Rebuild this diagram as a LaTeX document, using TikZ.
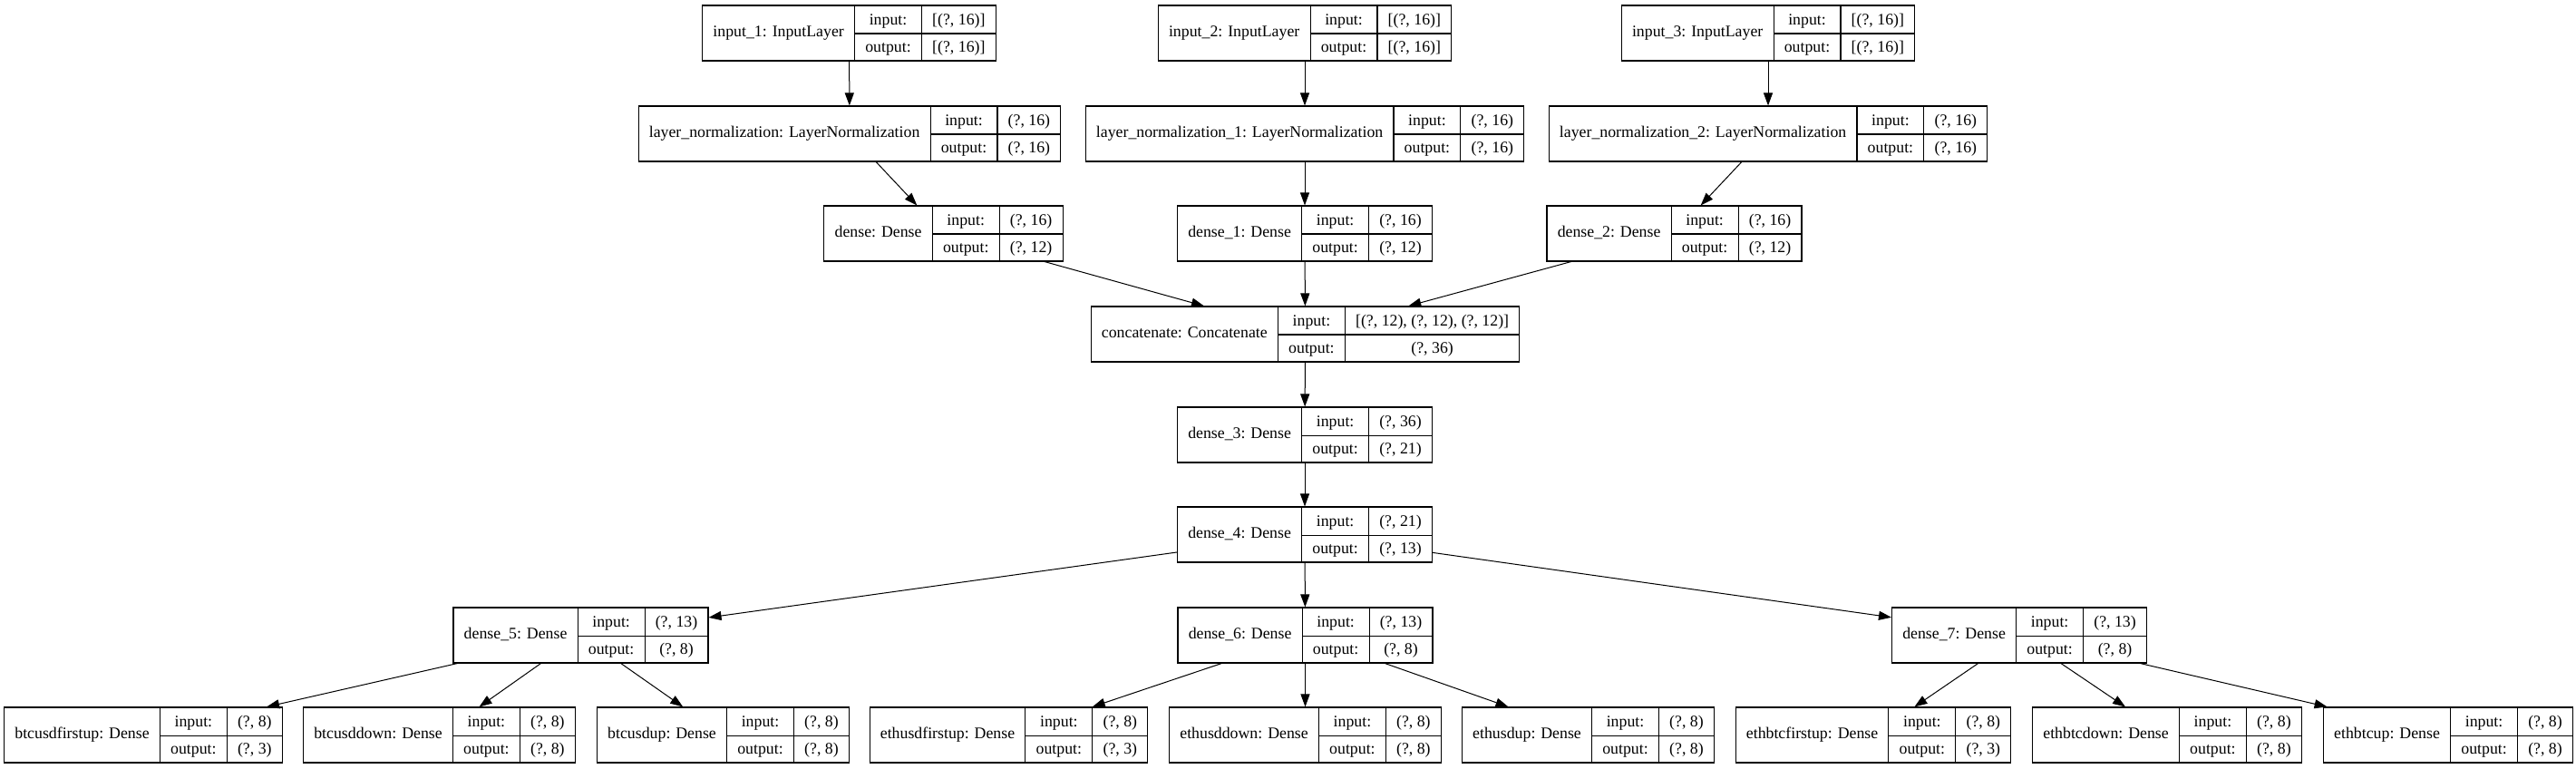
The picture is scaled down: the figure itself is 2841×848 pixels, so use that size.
\documentclass[tikz,border=0pt]{standalone}
\usepackage{fontspec}
\setmainfont{Liberation Serif}
\usepackage{multirow}
\usepackage{tikz}
\usetikzlibrary{arrows.meta}

\setlength{\tabcolsep}{8.8pt}
\setlength{\arrayrulewidth}{0.8pt}
\renewcommand{\arraystretch}{1.43}
% one keras layer: name, input shape, output shape
\newcommand{\ltab}[3]{\begin{tabular}{c|c|c}
  \multirow{2}{*}{#1} & input: & #2 \\ \cline{2-3}
   & output: & #3
\end{tabular}}

\tikzset{
  layer/.style={draw, line width=0.8pt, inner sep=0pt,
    font=\fontsize{13.35}{16}\selectfont},
  arr/.style={-{Triangle[length=10.5pt,width=7.5pt]}, line width=0.75pt}
}

\begin{document}
\begin{tikzpicture}[x=0.75pt,y=-0.75pt]
\useasboundingbox (0,0) rectangle (2841,848);

\node[layer] (in1) at (936.5,36.5) {\ltab{input\_1: InputLayer}{[(?, 16)]}{[(?, 16)]}};
\node[layer] (in2) at (1439,36.5) {\ltab{input\_2: InputLayer}{[(?, 16)]}{[(?, 16)]}};
\node[layer] (in3) at (1950,36.5) {\ltab{input\_3: InputLayer}{[(?, 16)]}{[(?, 16)]}};

\node[layer] (ln0) at (937,147.5) {\ltab{layer\_normalization: LayerNormalization}{(?, 16)}{(?, 16)}};
\node[layer] (ln1) at (1439,147.5) {\ltab{layer\_normalization\_1: LayerNormalization}{(?, 16)}{(?, 16)}};
\node[layer] (ln2) at (1950,147.5) {\ltab{layer\_normalization\_2: LayerNormalization}{(?, 16)}{(?, 16)}};

\node[layer] (d0) at (1040.5,257.5) {\ltab{dense: Dense}{(?, 16)}{(?, 12)}};
\node[layer] (d1) at (1439,257.5) {\ltab{dense\_1: Dense}{(?, 16)}{(?, 12)}};
\node[layer] (d2) at (1846.5,257.5) {\ltab{dense\_2: Dense}{(?, 16)}{(?, 12)}};

\node[layer] (cat) at (1439.5,368.5) {\ltab{concatenate: Concatenate}{[(?, 12), (?, 12), (?, 12)]}{(?, 36)}};
\node[layer] (d3) at (1439,479.5) {\ltab{dense\_3: Dense}{(?, 36)}{(?, 21)}};
\node[layer] (d4) at (1439,589.5) {\ltab{dense\_4: Dense}{(?, 21)}{(?, 13)}};

\node[layer] (d5) at (640.5,700.5) {\ltab{dense\_5: Dense}{(?, 13)}{(?, 8)}};
\node[layer] (d6) at (1439.5,700.5) {\ltab{dense\_6: Dense}{(?, 13)}{(?, 8)}};
\node[layer] (d7) at (2227,700.5) {\ltab{dense\_7: Dense}{(?, 13)}{(?, 8)}};

\node[layer] (bfu) at (158,810.5) {\ltab{btcusdfirstup: Dense}{(?, 8)}{(?, 3)}};
\node[layer] (bdn) at (484.5,810.5) {\ltab{btcusddown: Dense}{(?, 8)}{(?, 8)}};
\node[layer] (bup) at (797.5,810.5) {\ltab{btcusdup: Dense}{(?, 8)}{(?, 8)}};
\node[layer] (efu) at (1112.5,810.5) {\ltab{ethusdfirstup: Dense}{(?, 8)}{(?, 3)}};
\node[layer] (edn) at (1439.5,810.5) {\ltab{ethusddown: Dense}{(?, 8)}{(?, 8)}};
\node[layer] (eup) at (1751.5,810.5) {\ltab{ethusdup: Dense}{(?, 8)}{(?, 8)}};
\node[layer] (xfu) at (2066,810.5) {\ltab{ethbtcfirstup: Dense}{(?, 8)}{(?, 3)}};
\node[layer] (xdn) at (2390,810.5) {\ltab{ethbtcdown: Dense}{(?, 8)}{(?, 8)}};
\node[layer] (xup) at (2700,810.5) {\ltab{ethbtcup: Dense}{(?, 8)}{(?, 8)}};

\path[arr] (in1) edge (ln0);
\path[arr] (in2) edge (ln1);
\path[arr] (in3) edge (ln2);
\path[arr] (ln0) edge (d0);
\path[arr] (ln1) edge (d1);
\path[arr] (ln2) edge (d2);
\path[arr] (d0) edge (cat) (d1) edge (cat) (d2) edge (cat);
\path[arr] (cat) edge (d3);
\path[arr] (d3) edge (d4);
\path[arr] (d4) edge (d5) edge (d6) edge (d7);
\path[arr] (d5) edge (bfu) edge (bdn) edge (bup);
\path[arr] (d6) edge (efu) edge (edn) edge (eup);
\path[arr] (d7) edge (xfu) edge (xdn) edge (xup);
\end{tikzpicture}
\end{document}
